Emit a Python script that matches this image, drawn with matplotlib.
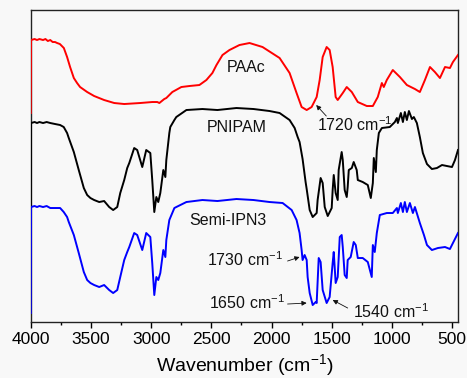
import matplotlib
matplotlib.use("Agg")
import matplotlib.pyplot as plt
from matplotlib.ticker import MultipleLocator

plt.rcParams['font.family'] = ['Liberation Sans', 'DejaVu Sans']
plt.rcParams['mathtext.fontset'] = 'custom'
plt.rcParams['mathtext.rm'] = 'Liberation Sans'
plt.rcParams['mathtext.it'] = 'Liberation Sans'
plt.rcParams['mathtext.default'] = 'regular'

# FTIR spectra (transmittance, arbitrary offset units) vs wavenumber (cm-1)
paac_wn = [4002, 4000, 3970, 3950, 3930, 3900, 3880, 3860, 3840, 3820, 3800, 3783, 3760,
           3727, 3700, 3675, 3644, 3617, 3592, 3533, 3475, 3392, 3308, 3225, 3092,
           2992, 2950, 2933, 2892, 2875, 2825, 2750, 2683, 2600, 2542, 2492, 2458,
           2408, 2350, 2267, 2183, 2075, 1933, 1850, 1792, 1750, 1708, 1667, 1625,
           1600, 1575, 1542, 1517, 1492, 1467, 1450, 1408, 1375, 1333, 1283, 1208,
           1158, 1117, 1083, 1067, 1042, 992, 933, 875, 808, 767, 725, 683, 642,
           600, 558, 517, 492, 450]
paac_t = [209, 282, 283, 282, 283, 282, 283, 281, 282, 280, 280, 279, 278,
          274, 265, 255, 244, 239, 235, 230, 226, 222, 219, 218, 219,
          220, 220, 219, 223, 224, 230, 235, 236, 237, 242, 249, 257,
          267, 272, 277, 279, 275, 264, 249, 229, 215, 212, 215, 225,
          242, 265, 275, 272, 255, 225, 222, 229, 235, 230, 220, 216,
          216, 225, 239, 235, 242, 252, 245, 237, 233, 230, 242, 255, 250,
          244, 255, 254, 260, 267]

pnipam_wn = [4002, 4000, 3970, 3950, 3930, 3900, 3870, 3840, 3800, 3758, 3728, 3700,
             3686, 3644, 3603, 3561, 3533, 3506, 3475, 3433, 3392, 3350, 3317, 3283,
             3258, 3225, 3200, 3183, 3142, 3117, 3075, 3042, 3008, 2992, 2975, 2958,
             2942, 2925, 2900, 2883, 2875, 2850, 2842, 2808, 2792, 2708, 2575, 2450,
             2292, 2150, 2017, 1933, 1850, 1808, 1783, 1767, 1742, 1717, 1708, 1683,
             1658, 1625, 1617, 1592, 1575, 1558, 1533, 1500, 1492, 1483, 1467, 1450,
             1442, 1417, 1408, 1392, 1375, 1367, 1358, 1333, 1317, 1292, 1283, 1242,
             1200, 1175, 1158, 1150, 1133, 1125, 1108, 1083, 1017, 975, 958, 950,
             925, 908, 892, 875, 858, 833, 817, 792, 767, 742, 708, 667, 625, 583,
             542, 500, 475, 450]
pnipam_t = [110, 199, 200, 199, 200, 199, 200, 199, 198, 197, 195, 189,
            184, 170, 152, 134, 127, 124, 122, 120, 121, 115, 112, 115,
            129, 142, 154, 159, 174, 172, 155, 172, 169, 142, 110, 125,
            120, 129, 152, 145, 162, 189, 195, 202, 205, 212, 213, 212,
            214, 213, 211, 209, 202, 194, 185, 180, 163, 140, 133, 112,
            105, 109, 122, 144, 139, 115, 106, 114, 132, 147, 129, 122,
            152, 170, 162, 132, 125, 135, 152, 154, 160, 152, 142, 140,
            137, 124, 139, 164, 150, 172, 189, 194, 195, 200, 204, 199,
            209, 200, 210, 202, 211, 203, 205, 199, 185, 169, 158, 153, 154, 157,
            156, 155, 162, 172]

ipn_wn = [4002, 4000, 3970, 3950, 3930, 3900, 3870, 3840, 3800, 3758, 3728, 3700,
          3686, 3644, 3603, 3561, 3533, 3506, 3475, 3433, 3392, 3350, 3317, 3283,
          3258, 3225, 3200, 3183, 3142, 3117, 3075, 3042, 3008, 2992, 2975, 2958,
          2942, 2925, 2900, 2883, 2875, 2850, 2808, 2792, 2708, 2575, 2450, 2292,
          2150, 2017, 1908, 1833, 1792, 1767, 1750, 1742, 1725, 1708, 1700, 1683,
          1658, 1633, 1625, 1608, 1592, 1575, 1542, 1517, 1492, 1483, 1467, 1450,
          1433, 1417, 1408, 1392, 1375, 1367, 1342, 1317, 1300, 1283, 1242, 1200,
          1167, 1158, 1142, 1125, 1100, 1042, 992, 958, 950, 925, 908, 892, 875,
          850, 825, 808, 767, 733, 708, 667, 617, 558, 517, 492, 450]
ipn_t = [9, 115, 116, 115, 116, 115, 116, 114, 114, 114, 110, 105,
         100, 87, 69, 50, 42, 39, 37, 35, 37, 32, 29, 32,
         45, 62, 70, 75, 89, 87, 72, 89, 85, 59, 27, 45,
         42, 49, 72, 65, 82, 102, 114, 115, 120, 122, 121, 123,
         122, 120, 119, 112, 102, 89, 72, 62, 67, 62, 45, 29,
         17, 20, 19, 64, 60, 32, 19, 25, 59, 70, 39, 45,
         85, 87, 75, 47, 44, 62, 65, 80, 77, 64, 64, 60,
         45, 77, 70, 89, 107, 109, 109, 114, 109, 119, 110, 120, 110,
         119, 109, 115, 99, 87, 77, 72, 74, 75, 73, 79, 89]

series_names = ["PAAc", "PNIPAM", "Semi-IPN3"]
series_colors = ["#ff0000", "#000000", "#0000ff"]
series_wn = [paac_wn, pnipam_wn, ipn_wn]
series_t = [paac_t, pnipam_t, ipn_t]
# name label anchors (wavenumber, transmittance)
label_wn = [2208, 2292, 2367]
label_t = [255, 195, 102]

# band annotations: text, text anchor, arrow tail, arrow head
band_text = ["1720 cm$^{-1}$", "1730 cm$^{-1}$", "1650 cm$^{-1}$", "1540 cm$^{-1}$"]
band_text_xy = [(1625, 197), (1905, 62), (1890, 19), (1325, 10)]
band_text_ha = ["left", "right", "right", "left"]
band_tail = [(1545, 206), (1867, 61), (1867, 18), (1367, 14)]
band_head = [(1629, 217), (1767, 65), (1708, 19), (1492, 22)]

xticks = [4000, 3500, 3000, 2500, 2000, 1500, 1000, 500]

fig = plt.figure(figsize=(4.67, 3.78), dpi=100, facecolor="#f8f8f8")
ax = fig.add_axes([0.0664, 0.1481, 0.9143, 0.8254])
ax.set_facecolor("#f8f8f8")

for wn, t, c in zip(series_wn, series_t, series_colors):
    ax.plot(wn, t, color=c, lw=1.4, zorder=3, solid_joinstyle="round")

for name, x, y in zip(series_names, label_wn, label_t):
    ax.text(x, y, name, ha="center", va="center", fontsize=11.5, color="#111111")

for txt, xy, ha, tail, head in zip(band_text, band_text_xy, band_text_ha, band_tail, band_head):
    ax.text(xy[0], xy[1], txt, ha=ha, va="center", fontsize=11.5, color="#111111")
    ax.annotate("", xy=head, xytext=tail,
                arrowprops=dict(arrowstyle="-|>", color="#111111", lw=0.6,
                                mutation_scale=7, shrinkA=0, shrinkB=0))

ax.set_xlim(4000, 450)
ax.set_ylim(0, 312)
ax.set_xticks(xticks)
ax.set_xticklabels([str(v) for v in xticks])
ax.xaxis.set_minor_locator(MultipleLocator(250))
ax.set_yticks([])
ax.tick_params(axis="x", which="major", direction="out", length=4.5, width=1,
               labelsize=12.5, pad=3, top=False)
ax.tick_params(axis="x", which="minor", direction="out", length=2.5, width=1, top=False)
for s in ax.spines.values():
    s.set_linewidth(1.0)
    s.set_color("#222222")

ax.set_xlabel("Wavenumber (cm$^{-1}$)", fontsize=14, labelpad=3)

fig.savefig("out.png", dpi=100, facecolor=fig.get_facecolor())
